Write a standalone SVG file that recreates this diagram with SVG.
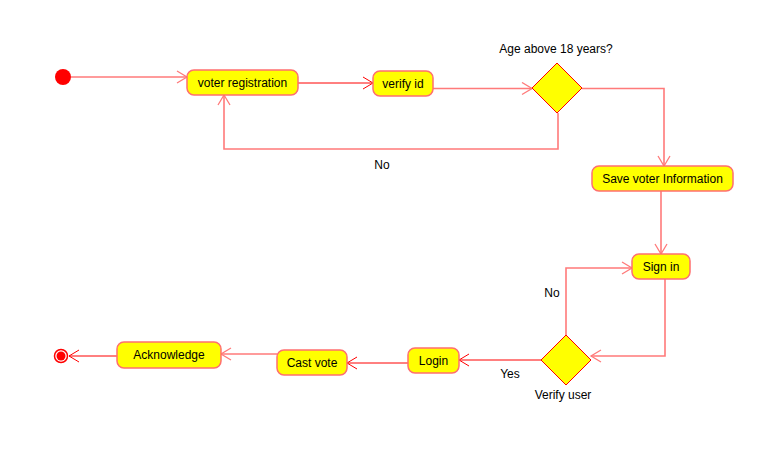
<svg xmlns="http://www.w3.org/2000/svg" width="782" height="466" viewBox="0 0 782 466">
<style>
.box{fill:#ffff00;stroke:#ff6f6f;stroke-width:1.5}
.dia{fill:#ffff00;stroke:#ff0000;stroke-width:1}
.t{font-family:"Liberation Sans",Arial,sans-serif;font-size:12px;fill:#000;text-anchor:middle}
.lt{fill:none;stroke:#ff7a7a;stroke-width:1.6}
.rd{fill:none;stroke:#ff0000;stroke-width:1}
</style>
<defs>
<marker id="al" markerWidth="14" markerHeight="14" refX="11" refY="7" orient="auto" markerUnits="userSpaceOnUse">
<path d="M1,1 L11,7 L1,13" fill="none" stroke="#ff7a7a" stroke-width="1.3"/>
</marker>
<marker id="ar" markerWidth="14" markerHeight="14" refX="11" refY="7" orient="auto" markerUnits="userSpaceOnUse">
<path d="M1,1 L11,7 L1,13" fill="none" stroke="#ff0000" stroke-width="1"/>
</marker>
</defs>
<rect width="782" height="466" fill="#ffffff"/>
<g id="connectors">
<path class="lt" d="M71,77 H187" marker-end="url(#al)"/>
<path class="rd" d="M298,83 H373" marker-end="url(#ar)"/>
<path class="lt" d="M433,88.5 H532" marker-end="url(#al)"/>
<path class="lt" d="M582,88.5 H664 V166" marker-end="url(#al)"/>
<path class="lt" d="M558,113 V149 H224 V95" marker-end="url(#al)"/>
<path class="lt" d="M661,191 V254" marker-end="url(#al)"/>
<path class="lt" d="M665,279 V356 H591" marker-end="url(#al)"/>
<path class="lt" d="M566,335 V268 H632" marker-end="url(#al)"/>
<path class="rd" d="M541,360 H459" marker-end="url(#ar)"/>
<path class="rd" d="M408,363 H347" marker-end="url(#ar)"/>
<path class="lt" d="M277,354 H221" marker-end="url(#al)"/>
<path class="rd" d="M117,356 H69" marker-end="url(#ar)"/>
</g>
<g id="start"><circle cx="63" cy="77" r="8" fill="#ff0000"/></g>
<g id="voter-registration"><rect class="box" x="187" y="70" width="111" height="25" rx="7"/><text class="t" x="242.5" y="87">voter registration</text></g>
<g id="verify-id"><rect class="box" x="373" y="71" width="60" height="25" rx="7"/><text class="t" x="403" y="88">verify id</text></g>
<g id="age-decision"><polygon class="dia" points="557,63 582,88 557,113 532,88"/><text class="t" x="556" y="53">Age above 18 years?</text></g>
<g id="no-label-1"><text class="t" x="382" y="169">No</text></g>
<g id="save-voter"><rect class="box" x="592" y="166" width="141" height="25" rx="7"/><text class="t" x="662.5" y="183">Save voter Information</text></g>
<g id="sign-in"><rect class="box" x="632" y="254" width="58" height="25" rx="7"/><text class="t" x="661" y="271">Sign in</text></g>
<g id="verify-user"><polygon class="dia" points="566,335 591,360 566,385 541,360"/><text class="t" x="563" y="399">Verify user</text><text class="t" x="552" y="297">No</text><text class="t" x="510" y="378">Yes</text></g>
<g id="login"><rect class="box" x="408" y="348" width="51" height="25" rx="7"/><text class="t" x="433.5" y="365">Login</text></g>
<g id="cast-vote"><rect class="box" x="277" y="350" width="70" height="25" rx="7"/><text class="t" x="312" y="367">Cast vote</text></g>
<g id="acknowledge"><rect class="box" x="117" y="342" width="104" height="26" rx="7"/><text class="t" x="169" y="359">Acknowledge</text></g>
<g id="end"><circle cx="61" cy="356" r="6.5" fill="none" stroke="#ff0000" stroke-width="1.5"/><circle cx="61" cy="356" r="4.5" fill="#ff0000"/></g>
</svg>
